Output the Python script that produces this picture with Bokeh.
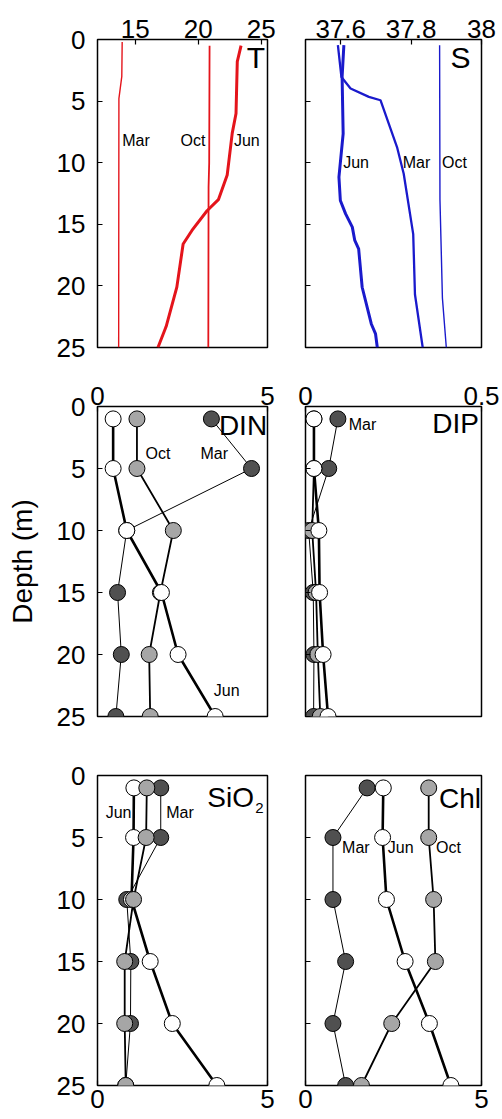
from bokeh.plotting import figure
from bokeh.layouts import column, row
from bokeh.models import Range1d, FixedTicker, Label, CustomJSTickFormatter
from bokeh.embed import file_html
from bokeh.resources import INLINE

FONT = "Liberation Sans"

# ---------------- data ----------------
# Temperature profiles (deg C)
T_mar_depth = [0.2, 3.0, 4.8, 25.0]
T_mar = [13.96, 13.93, 13.70, 13.68]
T_oct_depth = [0.5, 10.0, 12.0, 25.0]
T_oct = [20.90, 20.87, 20.82, 20.80]
T_jun_depth = [0.5, 1.8, 6.0, 7.6, 11.0, 13.0, 13.9, 15.5, 16.6, 20.1, 23.3, 25.0]
T_jun = [23.40, 23.10, 23.00, 22.70, 22.30, 21.60, 20.70, 19.50, 18.80, 18.30, 17.45, 16.80]

# Salinity profiles
S_mar_depth = [0.46, 3.04, 3.98, 4.66, 4.93, 8.73, 10.9, 15.8, 20.7, 25.0]
S_mar = [37.592, 37.602, 37.628, 37.680, 37.713, 37.760, 37.779, 37.806, 37.811, 37.833]
S_jun_depth = [0.46, 3.04, 7.64, 11.17, 13.07, 14.15, 15.23, 16.31, 17.0, 20.11, 23.09, 23.9, 25.0]
S_jun = [37.609, 37.604, 37.607, 37.595, 37.599, 37.614, 37.633, 37.640, 37.651, 37.661, 37.687, 37.699, 37.704]
S_oct_depth = [0.46, 13.0, 21.0, 25.0]
S_oct = [37.881, 37.882, 37.889, 37.900]

# Discrete samples
depths = [1, 5, 10, 15, 20, 25]
DIN_mar = [3.35, 4.53, 0.86, 0.59, 0.70, 0.54]
DIN_oct = [1.16, 1.16, 2.23, 1.85, 1.52, 1.55]
DIN_jun = [0.46, 0.46, 0.86, 1.88, 2.37, 3.46]

DIP_mar = [0.092, 0.066, 0.009, 0.022, 0.024, 0.023]
DIP_oct = [0.024, 0.024, 0.019, 0.030, 0.035, 0.042]
DIP_jun = [0.024, 0.024, 0.038, 0.040, 0.050, 0.064]

SiO2_mar = [1.86, 1.86, 0.86, 0.98, 0.97, 0.83]
SiO2_oct = [1.45, 1.43, 1.06, 0.80, 0.80, 0.83]
SiO2_jun = [1.07, 1.06, 1.00, 1.55, 2.20, 3.51]

Chl_mar = [1.75, 0.78, 0.78, 1.14, 0.78, 1.14]
Chl_oct = [3.50, 3.50, 3.64, 3.69, 2.45, 1.59]
Chl_jun = [2.21, 2.19, 2.30, 2.83, 3.52, 4.13]

depth_ticks = [0, 5, 10, 15, 20, 25]

DARK = "#505050"
GRAY = "#a6a6a6"
RED = "#e4141b"
BLUE = "#1a1acc"

LEFT_W, RIGHT_W = 285, 217


def make_fig(width, height, xr, loc, bl, br, bt, bb, xticks, ylabels, x_standoff):
    p = figure(width=width, height=height, x_range=Range1d(*xr), y_range=Range1d(25, 0),
               x_axis_location=loc, output_backend="svg", toolbar_location=None,
               min_border_left=bl, min_border_right=br, min_border_top=bt, min_border_bottom=bb)
    p.grid.visible = False
    p.background_fill_color = "white"
    p.border_fill_color = "white"
    p.outline_line_color = "black"
    p.outline_line_width = 1.5
    p.outline_line_alpha = 1.0
    for ax in p.axis:
        ax.axis_line_color = None
        ax.major_tick_in = 5
        ax.major_tick_out = 0
        ax.major_tick_line_color = "black"
        ax.major_tick_line_width = 1.2
        ax.minor_tick_line_color = None
        ax.major_label_text_font = FONT
        ax.major_label_text_font_size = "26px"
        ax.major_label_text_color = "black"
    p.xaxis.ticker = FixedTicker(ticks=xticks)
    p.xaxis.major_label_standoff = x_standoff
    p.yaxis.ticker = FixedTicker(ticks=depth_ticks)
    p.yaxis.major_label_standoff = 12
    if not ylabels:
        p.yaxis.formatter = CustomJSTickFormatter(code="return ''")
    return p


def lab(p, x, y, text, size="16px"):
    p.add_layout(Label(x=x, y=y, text=text, text_font=FONT, text_font_size=size,
                       text_baseline="middle", text_align="left", text_color="black"))


def samples(p, mar, oct_, jun, order=("mar", "oct", "jun")):
    p.line(mar, depths, line_color="black", line_width=1.0)
    p.line(oct_, depths, line_color="black", line_width=1.8)
    p.line(jun, depths, line_color="black", line_width=2.6)
    series = {"mar": (mar, DARK), "oct": (oct_, GRAY), "jun": (jun, "white")}
    for key in order:
        xs, col = series[key]
        p.scatter(xs, depths, marker="circle", size=16, fill_color=col,
                  line_color="black", line_width=1.0)


# ---------------- row 1: T and S ----------------
pT = make_fig(LEFT_W, 366, (12, 25.5), "above", 97, 18, 39, 19, [15, 20, 25], True, 2)
pT.line(T_mar, T_mar_depth, line_color=RED, line_width=1.4)
pT.line(T_oct, T_oct_depth, line_color=RED, line_width=1.8)
pT.line(T_jun, T_jun_depth, line_color=RED, line_width=3.0)
lab(pT, 13.96, 8.2, "Mar")
lab(pT, 18.59, 8.2, "Oct")
lab(pT, 22.83, 8.2, "Jun")
lab(pT, 23.85, 1.5, "T", "30px")

pS = make_fig(RIGHT_W, 366, (37.5, 38.0), "above", 20, 21, 39, 19, [37.6, 37.8, 38.0], False, 2)
pS.xaxis.formatter = CustomJSTickFormatter(code="return tick >= 37.99 ? '38' : tick.toFixed(1)")
pS.line(S_oct, S_oct_depth, line_color=BLUE, line_width=1.4)
pS.line(S_mar, S_mar_depth, line_color=BLUE, line_width=2.3)
pS.line(S_jun, S_jun_depth, line_color=BLUE, line_width=3.0)
lab(pS, 37.607, 9.95, "Jun")
lab(pS, 37.776, 9.95, "Mar")
lab(pS, 37.888, 9.95, "Oct")
lab(pS, 37.912, 1.45, "S", "30px")

# ---------------- row 2: DIN and DIP ----------------
pDIN = make_fig(LEFT_W, 376, (0, 5), "above", 97, 18, 40, 26, [0, 5], True, 2)
pDIN.yaxis.axis_label = "Depth (m)"
pDIN.yaxis.axis_label_text_font = FONT
pDIN.yaxis.axis_label_text_font_size = "28px"
pDIN.yaxis.axis_label_text_font_style = "normal"
pDIN.yaxis.axis_label_text_color = "black"
pDIN.yaxis.axis_label_standoff = 16
samples(pDIN, DIN_mar, DIN_oct, DIN_jun)
lab(pDIN, 1.41, 3.8, "Oct")
lab(pDIN, 3.03, 3.8, "Mar")
lab(pDIN, 3.42, 22.9, "Jun")
lab(pDIN, 3.57, 1.5, "DIN", "28px")

pDIP = make_fig(RIGHT_W, 376, (0, 0.5), "above", 20, 21, 40, 26, [0, 0.5], False, 2)
samples(pDIP, DIP_mar, DIP_oct, DIP_jun)
lab(pDIP, 0.123, 1.45, "Mar")
lab(pDIP, 0.36, 1.4, "DIP", "28px")

# ---------------- row 3: SiO2 and Chl ----------------
pSi = make_fig(LEFT_W, 377, (0, 5), "below", 97, 18, 33, 34, [0, 5], True, 4)
samples(pSi, SiO2_mar, SiO2_oct, SiO2_jun, order=("mar", "jun", "oct"))
lab(pSi, 0.24, 3.0, "Jun")
lab(pSi, 2.02, 3.0, "Mar")
lab(pSi, 3.23, 1.8, "SiO", "28px")
lab(pSi, 4.64, 2.6, "2", "15px")

pChl = make_fig(RIGHT_W, 377, (0, 5), "below", 20, 21, 33, 34, [0, 5], False, 4)
samples(pChl, Chl_mar, Chl_oct, Chl_jun)
lab(pChl, 1.04, 5.8, "Mar")
lab(pChl, 2.34, 5.8, "Jun")
lab(pChl, 3.71, 5.8, "Oct")
lab(pChl, 3.79, 1.85, "Chl", "28px")

layout = column(row(pT, pS), row(pDIN, pDIP), row(pSi, pChl))

with open("out.html", "w") as f:
    f.write(file_html(layout, INLINE))
